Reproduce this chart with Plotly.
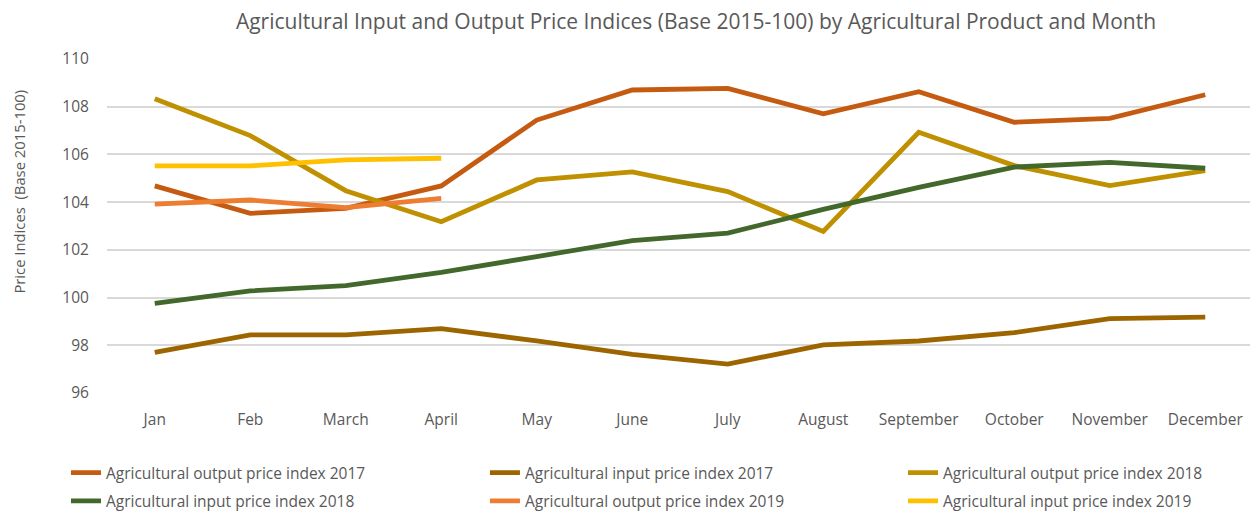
import plotly.graph_objects as go

months = ["Jan", "Feb", "March", "April", "May", "June", "July", "August",
          "September", "October", "November", "December"]

out_2017 = [104.68, 103.53, 103.74, 104.68, 107.44, 108.70, 108.77, 107.70, 108.63, 107.35, 107.51, 108.50]
in_2017 = [97.70, 98.44, 98.44, 98.70, 98.18, 97.62, 97.21, 98.02, 98.18, 98.53, 99.12, 99.18]
out_2018 = [108.33, 106.79, 104.48, 103.18, 104.93, 105.27, 104.44, 102.77, 106.93, 105.53, 104.69, 105.32]
in_2018 = [99.76, 100.28, 100.50, 101.06, 101.72, 102.39, 102.70, 103.70, 104.62, 105.47, 105.67, 105.42]
out_2019 = [103.92, 104.09, 103.77, 104.16]
in_2019 = [105.52, 105.52, 105.77, 105.84]

names = ["Agricultural output price index 2017", "Agricultural input price index 2017",
         "Agricultural output price index 2018", "Agricultural input price index 2018",
         "Agricultural output price index 2019", "Agricultural input price index 2019"]
series = [out_2017, in_2017, out_2018, in_2018, out_2019, in_2019]
colors = ["#C55A11", "#9C6500", "#BF9000", "#43682B", "#ED7D31", "#FFC000"]
legends = ["legend", "legend2", "legend3", "legend", "legend2", "legend3"]

FONT = "Open Sans"
GREY = "#595959"

fig = go.Figure()
for i, (nm, vals, col, lg) in enumerate(zip(names, series, colors, legends)):
    fig.add_trace(go.Scatter(
        x=months[:len(vals)], y=vals, name=nm, mode="lines",
        line=dict(color=col, width=4.8), legend=lg, legendgroup=str(i),
    ))

leg_common = dict(orientation="v", yanchor="top", xanchor="left",
                  font=dict(family=FONT, size=15.5, color=GREY),
                  bgcolor="rgba(0,0,0,0)", tracegroupgap=5, traceorder="grouped")

# page body has an 8px margin, so the figure is 8px smaller each way
fig.update_layout(
    width=1250, height=503,
    margin=dict(l=99, r=5, t=51, b=118, autoexpand=False),
    plot_bgcolor="white", paper_bgcolor="white",
    font=dict(family=FONT, color=GREY),
    title=dict(text="Agricultural Input and Output Price Indices (Base 2015-100) by Agricultural Product and Month",
               x=0.5504, xanchor="center", y=0.972, yanchor="middle",
               font=dict(family=FONT, size=21, color=GREY)),
    legend=dict(x=-0.0358, y=-0.189, **leg_common),
    legend2=dict(x=0.3298, y=-0.189, **leg_common),
    legend3=dict(x=0.6946, y=-0.189, **leg_common),
    showlegend=True,
    annotations=[dict(text="Price Indices  (Base 2015-100)", textangle=-90,
                      xref="paper", yref="paper", x=-0.0768, y=0.603, xanchor="center", yanchor="middle",
                      showarrow=False, font=dict(family=FONT, size=14.8, color=GREY))],
)
fig.update_xaxes(type="category", categoryorder="array", categoryarray=months,
                 range=[-0.5, 11.5], showgrid=False, zeroline=False, showline=False,
                 ticks="outside", ticklen=12, tickcolor="rgba(0,0,0,0)", automargin=False,
                 tickfont=dict(family=FONT, size=15.5, color=GREY))
fig.update_yaxes(range=[96, 110], dtick=2, tick0=96, showgrid=True, gridcolor="#D9D9D9",
                 gridwidth=1.5, zeroline=False, showline=False, automargin=False,
                 ticks="outside", ticklen=14, tickcolor="rgba(0,0,0,0)",
                 tickfont=dict(family=FONT, size=15.5, color=GREY))

fig.write_html("out.html")
